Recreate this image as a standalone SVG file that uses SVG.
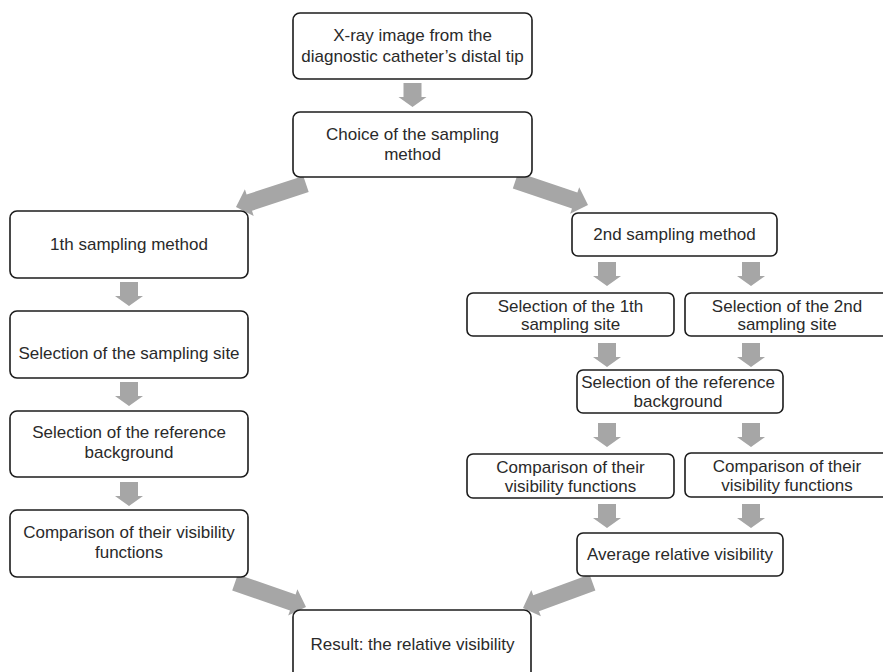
<svg xmlns="http://www.w3.org/2000/svg" xmlns:xlink="http://www.w3.org/1999/xlink" width="883" height="672" viewBox="0 0 883 672">
<style>
.box{fill:#fff;stroke:#1c1c1c;stroke-width:1.6}
.t{font-family:"Liberation Sans",Arial,sans-serif;font-size:17px;fill:#2a2a2a;text-anchor:middle}
.arr{fill:#a6a6a6;stroke:none}
</style>
<defs>
<polygon id="down" points="-9,0 9,0 9,14 14,14 0,24 -14,14 -9,14"/>
</defs>
<rect width="883" height="672" fill="#fff"/>
<g id="connectors" class="arr">
<use xlink:href="#down" x="412.5" y="83"/>
<polygon points="308.7,192.1 252,210.7 253.7,215.9 236,207 244.9,189.3 246.6,194.5 303.3,175.9"/>
<polygon points="512.8,188.6 572,208.6 570.2,213.8 588,205 579.2,187.2 577.4,192.4 518.2,172.4"/>
<use xlink:href="#down" x="129" y="282"/>
<use xlink:href="#down" x="129" y="382"/>
<use xlink:href="#down" x="129" y="482"/>
<use xlink:href="#down" x="607" y="262"/>
<use xlink:href="#down" x="751" y="262"/>
<use xlink:href="#down" x="607" y="343"/>
<use xlink:href="#down" x="751" y="343"/>
<use xlink:href="#down" x="607" y="423"/>
<use xlink:href="#down" x="751" y="423"/>
<use xlink:href="#down" x="607" y="504"/>
<use xlink:href="#down" x="751" y="504"/>
<polygon points="232.2,590.5 290,610.5 288.2,615.6 306,607 297.4,589.2 295.6,594.4 237.8,574.5"/>
<polygon points="595.4,590.5 539,611.2 540.9,616.3 523,608 531.3,590.1 533.2,595.2 589.6,574.5"/>
</g>
<g id="n_xray"><rect class="box" x="293" y="13" width="239" height="66" rx="7"/><text class="t" x="412.5" y="41">X-ray image from the</text><text class="t" x="412.5" y="62">diagnostic catheter’s distal tip</text></g>
<g id="n_choice"><rect class="box" x="293" y="112" width="239" height="65" rx="7"/><text class="t" x="412.5" y="140">Choice of the sampling</text><text class="t" x="412.5" y="160">method</text></g>
<g id="n_m1"><rect class="box" x="10" y="211" width="238" height="67" rx="7"/><text class="t" x="129" y="250">1th sampling method</text></g>
<g id="n_m1_site"><rect class="box" x="10" y="311" width="238" height="67" rx="7"/><text class="t" x="129" y="359">Selection of the sampling site</text></g>
<g id="n_m1_bg"><rect class="box" x="10" y="411" width="238" height="66" rx="7"/><text class="t" x="129" y="438">Selection of the reference</text><text class="t" x="129" y="458">background</text></g>
<g id="n_m1_cmp"><rect class="box" x="10" y="510" width="238" height="67" rx="7"/><text class="t" x="129" y="538">Comparison of their visibility</text><text class="t" x="129" y="558">functions</text></g>
<g id="n_m2"><rect class="box" x="572" y="213" width="205" height="43" rx="6"/><text class="t" x="674.5" y="240">2nd sampling method</text></g>
<g id="n_m2_site1"><rect class="box" x="467" y="293" width="207" height="43" rx="6"/><text class="t" x="570.5" y="312">Selection of the 1th</text><text class="t" x="570.5" y="330">sampling site</text></g>
<g id="n_m2_site2"><rect class="box" x="685" y="293" width="207" height="43" rx="6"/><text class="t" x="787" y="312">Selection of the 2nd</text><text class="t" x="787" y="330">sampling site</text></g>
<g id="n_m2_bg"><rect class="box" x="577" y="370" width="206" height="43" rx="6"/><text class="t" x="678" y="388">Selection of the reference</text><text class="t" x="678" y="407">background</text></g>
<g id="n_m2_cmp1"><rect class="box" x="467" y="454" width="207" height="44" rx="6"/><text class="t" x="570.5" y="473">Comparison of their</text><text class="t" x="570.5" y="492">visibility functions</text></g>
<g id="n_m2_cmp2"><rect class="box" x="685" y="453" width="207" height="44" rx="6"/><text class="t" x="787" y="472">Comparison of their</text><text class="t" x="787" y="491">visibility functions</text></g>
<g id="n_avg"><rect class="box" x="577" y="533" width="206" height="43" rx="6"/><text class="t" x="680" y="560">Average relative visibility</text></g>
<g id="n_result"><rect class="box" x="293" y="610" width="238" height="72" rx="7"/><text class="t" x="412.5" y="650">Result: the relative visibility</text></g>
</svg>
